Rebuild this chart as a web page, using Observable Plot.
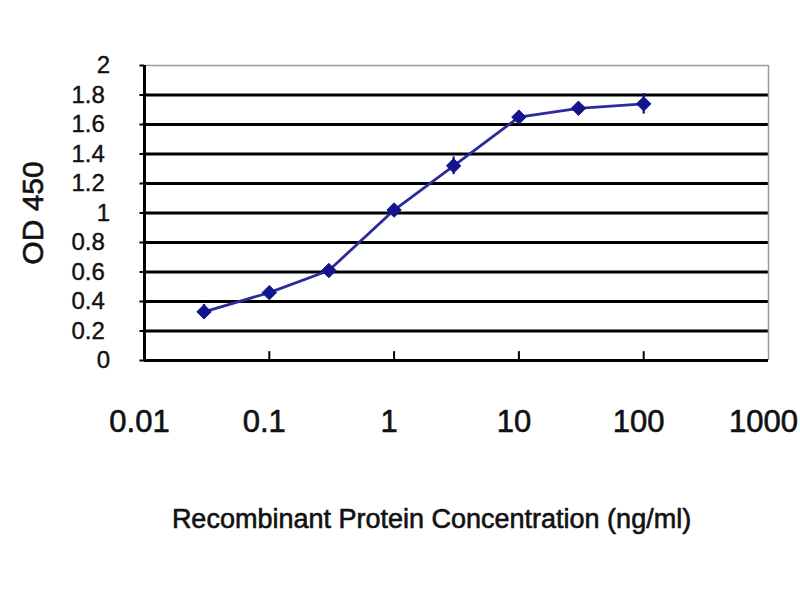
<!DOCTYPE html>
<html>
<head>
<meta charset="utf-8">
<script src="https://cdn.jsdelivr.net/npm/d3@7"></script>
<script src="https://cdn.jsdelivr.net/npm/@observablehq/plot@0.6"></script>
<style>
  html, body { margin: 0; padding: 0; background: #fff; }
  #chart svg { display: block; }
</style>
</head>
<body>
<div id="chart"></div>
<script>
// Data
const concentrations = [0.03, 0.1, 0.3, 1, 3, 10, 30, 100];
const od450 = [0.33, 0.46, 0.61, 1.02, 1.32, 1.65, 1.71, 1.74];
const errors = [0.05, 0.02, 0.04, 0.02, 0.06, 0.04, 0.03, 0.07];

const xTicks = [0.01, 0.1, 1, 10, 100, 1000];
const xTickLabels = ["0.01", "0.1", "1", "10", "100", "1000"];
const yTicks = [0, 0.2, 0.4, 0.6, 0.8, 1, 1.2, 1.4, 1.6, 1.8, 2];
const yTickLabels = ["0", "0.2", "0.4", "0.6", "0.8", "1", "1.2", "1.4", "1.6", "1.8", "2"];
const gridValues = [0.2, 0.4, 0.6, 0.8, 1, 1.2, 1.4, 1.6, 1.8];

const xTitle = "Recombinant Protein Concentration (ng/ml)";
const yTitle = "OD 450";

const data = concentrations.map((c, i) => ({x: c, y: od450[i], e: errors[i]}));
const yFrac = yTicks.map((v, i) => ({v, label: yTickLabels[i]})).filter(d => d.label.includes("."));
const yInt = yTicks.map((v, i) => ({v, label: yTickLabels[i]})).filter(d => !d.label.includes("."));

const navy = "#14148c";
const ink = "#111";
const font = "Liberation Sans, Arial, sans-serif";

const chart = Plot.plot({
  width: 800,
  height: 600,
  marginLeft: 144,
  marginRight: 32,
  marginTop: 65,
  marginBottom: 240,
  style: {fontFamily: font, background: "#fff", color: "#000"},
  x: {type: "log", domain: [0.01, 1000], axis: null},
  y: {domain: [0, 2], axis: null},
  marks: [
    // horizontal gridlines
    Plot.ruleY(gridValues, {y: d => d, stroke: "#000", strokeWidth: 3}),
    // top and right frame (light)
    Plot.ruleY([2], {y: d => d, stroke: "#9a9a9a", strokeWidth: 1.5}),
    Plot.ruleX([1000], {x: d => d, stroke: "#9a9a9a", strokeWidth: 1.5}),
    // left and bottom axis lines
    Plot.ruleX([0.01], {x: d => d, stroke: "#000", strokeWidth: 3}),
    Plot.ruleY([0], {y: d => d, stroke: "#000", strokeWidth: 3}),
    // small y ticks to the left
    Plot.ruleY(yTicks, {y: d => d, x1: 0.0092, x2: 0.01, stroke: "#000", strokeWidth: 2}),
    // inner x ticks pointing up
    Plot.ruleX(xTicks.slice(1, -1), {x: d => d, y1: 0, y2: 0.06, stroke: "#000", strokeWidth: 2}),
    // x tick labels
    Plot.text(xTicks, {x: d => d, y: 0, text: (d, i) => xTickLabels[i], dx: -5, dy: 62, fontSize: 31, fill: ink, stroke: ink, strokeWidth: 0.6}),
    // y tick labels (two-column look of the reference)
    Plot.text(yFrac, {y: "v", text: "label", frameAnchor: "left", dx: -73, textAnchor: "start", fontSize: 24, fill: ink, stroke: ink, strokeWidth: 0.4, ariaLabel: "ytickfrac"}),
    Plot.text(yInt, {y: "v", text: "label", frameAnchor: "left", dx: -41, textAnchor: "middle", fontSize: 24, fill: ink, stroke: ink, strokeWidth: 0.4}),
    // axis titles
    Plot.text([yTitle], {frameAnchor: "left", dx: -111, rotate: -90, textAnchor: "middle", fontSize: 30, fill: ink, stroke: ink, strokeWidth: 0.6, ariaLabel: "ytitle"}),
    Plot.text([xTitle], {frameAnchor: "bottom", dx: -25, dy: 167, textAnchor: "middle", fontSize: 27, fill: ink, stroke: ink, strokeWidth: 0.6}),
    // series
    Plot.line(data, {x: "x", y: "y", stroke: "#2b2b9c", strokeWidth: 2.8}),
    Plot.ruleX(data, {x: "x", y1: d => d.y - d.e, y2: d => d.y + d.e, stroke: navy, strokeWidth: 2.2}),
    Plot.dot(data, {x: "x", y: "y", symbol: "diamond2", r: 6.5, fill: navy, stroke: navy, strokeWidth: 1})
  ]
});

d3.select(chart).selectAll('g[aria-label="ytickfrac"] text').attr("letter-spacing", "3.5px");
d3.select(chart).selectAll('g[aria-label="ytitle"] text').attr("letter-spacing", "3px");
document.getElementById("chart").appendChild(chart);
</script>
</body>
</html>
